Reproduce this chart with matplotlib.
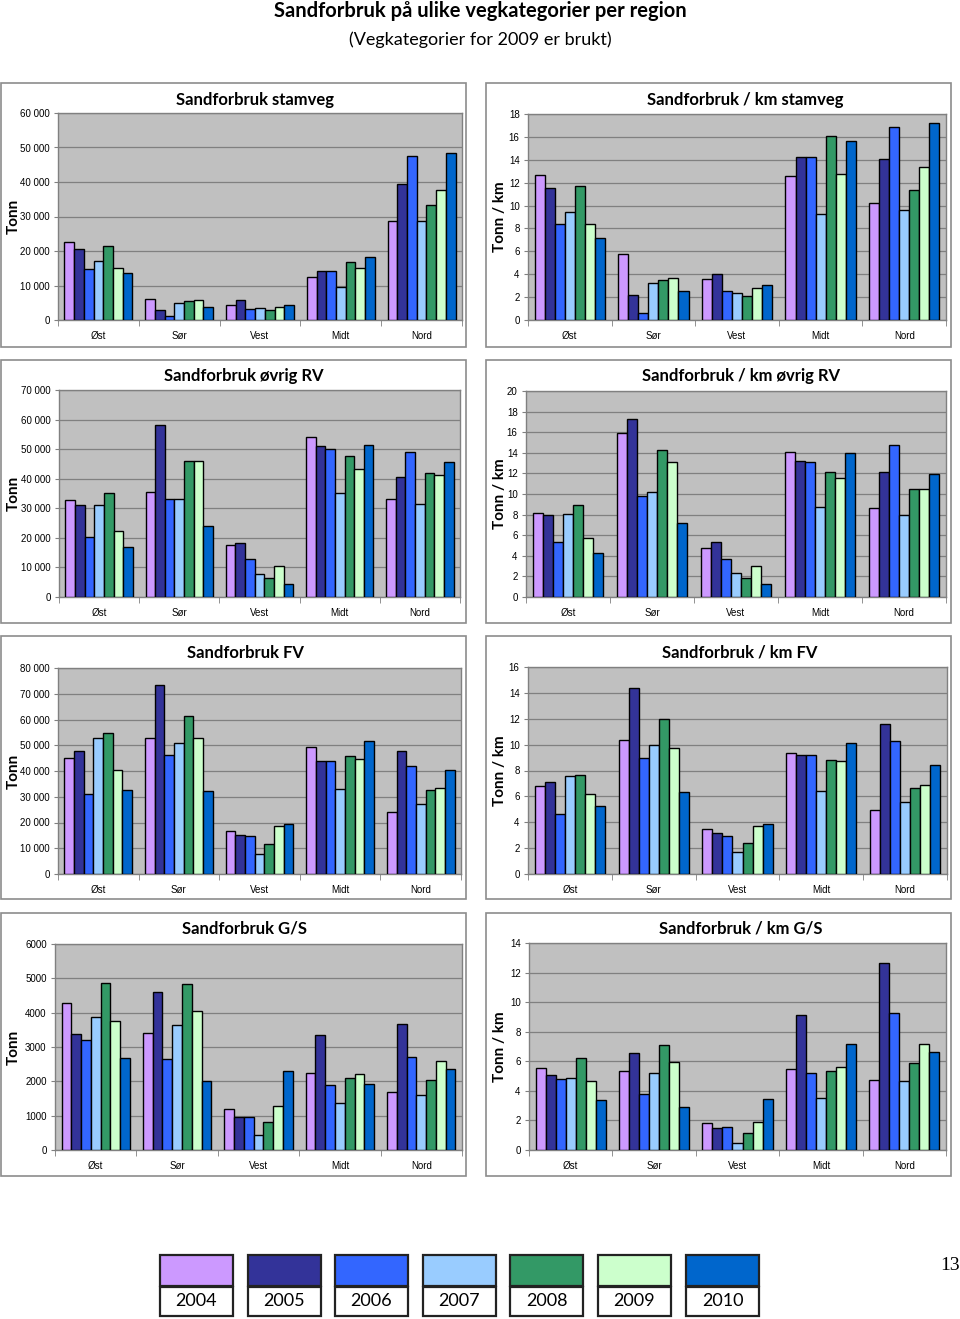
import numpy as np
import matplotlib
matplotlib.use("Agg")
from matplotlib import pyplot as plt
from matplotlib.patches import Rectangle
from matplotlib.ticker import FuncFormatter, FixedLocator

W, H = 960, 1319

regions = ["Øst", "Sør", "Vest", "Midt", "Nord"]
years = ["2004", "2005", "2006", "2007", "2008", "2009", "2010"]
colors = ["#CC99FF", "#333399", "#3366FF", "#99CCFF", "#339966", "#CCFFCC", "#0066CC"]

# values per region, 2004..2010
stamveg = [[22600, 20600, 14800, 17000, 21500, 15200, 13600],
           [6200, 3000, 1100, 4900, 5400, 5800, 3900],
           [4300, 5800, 3300, 3400, 3000, 3800, 4300],
           [12400, 14300, 14300, 9600, 16700, 15200, 18300],
           [28800, 39400, 47600, 28800, 33200, 37600, 48400]]
stamveg_km = [[12.7, 11.5, 8.4, 9.4, 11.75, 8.4, 7.15],
              [5.75, 2.2, 0.65, 3.27, 3.5, 3.7, 2.57],
              [3.6, 4.0, 2.57, 2.33, 2.1, 2.77, 3.03],
              [12.57, 14.2, 14.2, 9.3, 16.1, 12.8, 15.6],
              [10.23, 14.1, 16.9, 9.6, 11.4, 13.4, 17.2]]
ovrig_rv = [[32800, 31000, 20300, 31000, 35100, 22200, 16800],
            [35500, 58300, 33100, 33100, 45900, 45900, 24100],
            [17600, 18200, 12700, 7700, 6300, 10400, 4500],
            [54100, 51000, 50100, 35000, 47800, 43200, 51400],
            [33200, 40500, 49200, 31500, 41900, 41100, 45600]]
ovrig_rv_km = [[8.2, 7.95, 5.35, 8.1, 8.9, 5.75, 4.3],
               [15.9, 17.25, 9.85, 10.2, 14.25, 13.1, 7.2],
               [4.8, 5.35, 3.65, 2.35, 1.8, 3.0, 1.3],
               [14.1, 13.2, 13.1, 8.7, 12.1, 11.6, 14.0],
               [8.6, 12.15, 14.8, 7.95, 10.45, 10.45, 11.9]]
fv = [[45200, 47900, 30900, 52900, 54600, 40500, 32600],
      [52900, 73400, 46300, 50900, 61500, 52900, 32100],
      [16800, 15300, 14800, 7900, 11800, 18500, 19500],
      [49300, 44000, 44000, 33100, 45700, 44700, 51500],
      [24100, 47600, 41900, 27100, 32500, 33500, 40300]]
fv_km = [[6.8, 7.1, 4.6, 7.55, 7.65, 6.2, 5.27],
         [10.35, 14.35, 9.0, 9.95, 11.95, 9.75, 6.3],
         [3.46, 3.18, 2.95, 1.7, 2.4, 3.7, 3.88],
         [9.33, 9.22, 9.22, 6.38, 8.8, 8.7, 10.15],
         [4.93, 11.6, 10.25, 5.55, 6.68, 6.9, 8.46]]
gs = [[4270, 3370, 3210, 3880, 4870, 3770, 2670],
      [3420, 4600, 2640, 3650, 4830, 4040, 2000],
      [1180, 950, 970, 430, 820, 1290, 2310],
      [2240, 3340, 1890, 1380, 2090, 2200, 1920],
      [1690, 3680, 2710, 1600, 2040, 2580, 2350]]
gs_km = [[5.56, 5.1, 4.8, 4.9, 6.2, 4.64, 3.36],
         [5.36, 6.58, 3.8, 5.18, 7.1, 5.92, 2.9],
         [1.8, 1.46, 1.53, 0.45, 1.17, 1.91, 3.47],
         [5.45, 9.12, 5.18, 3.54, 5.36, 5.63, 7.2],
         [4.73, 12.63, 9.28, 4.64, 5.86, 7.2, 6.64]]

def space_thousands(v, pos):
    return "{:,}".format(int(v)).replace(",", " ")

def plain(v, pos):
    return "%d" % v

# (data, title, ylabel, ymax, step, formatter, frame box, plot box, title x, title y)
panels = [
    (stamveg, "Sandforbruk stamveg", "Tonn", 60000, 10000, space_thousands,
     (1, 83, 466, 347), (58, 113, 462, 320), 255, 100),
    (stamveg_km, "Sandforbruk / km stamveg", "Tonn / km", 18, 2, plain,
     (486, 83, 951, 347), (528, 114, 946, 320), 745, 100),
    (ovrig_rv, "Sandforbruk øvrig RV", "Tonn", 70000, 10000, space_thousands,
     (1, 360, 466, 623), (59, 390, 460, 597), 244, 376),
    (ovrig_rv_km, "Sandforbruk / km øvrig RV", "Tonn / km", 20, 2, plain,
     (486, 360, 951, 623), (526, 391, 946, 597), 741, 376),
    (fv, "Sandforbruk FV", "Tonn", 80000, 10000, space_thousands,
     (1, 636, 466, 899), (58, 668, 461, 874), 245, 653),
    (fv_km, "Sandforbruk / km FV", "Tonn / km", 16, 2, plain,
     (486, 636, 951, 899), (528, 667, 947, 874), 740, 653),
    (gs, "Sandforbruk G/S", "Tonn", 6000, 1000, plain,
     (1, 913, 466, 1176), (55, 944, 462, 1150), 244, 929),
    (gs_km, "Sandforbruk / km G/S", "Tonn / km", 14, 2, plain,
     (486, 913, 951, 1176), (529, 943, 946, 1150), 741, 929),
]

fig = plt.figure(figsize=(W / 100, H / 100), dpi=100)

def fx(x):
    return x / W

def fy(y):
    return 1 - y / H

fig.text(0.5, fy(11), "Sandforbruk på ulike vegkategorier per region", ha="center", va="center",
         fontsize=14.5, fontweight="bold", family="Lato")
fig.text(0.5, fy(40), "(Vegkategorier for 2009 er brukt)", ha="center", va="center",
         fontsize=13, family="Lato")

bw = 0.12
x = np.arange(len(regions))

for data, title, ylabel, ymax, step, fmt, frame, box, tx, ty in panels:
    fig.patches.append(Rectangle((fx(frame[0]), fy(frame[3])), fx(frame[2] - frame[0]),
                                 (frame[3] - frame[1]) / H, transform=fig.transFigure,
                                 facecolor="none", edgecolor="#8c8c8c", lw=1.2, zorder=0))
    ax = fig.add_axes([fx(box[0]), fy(box[3]), fx(box[2] - box[0]), (box[3] - box[1]) / H])
    ax.set_zorder(2)
    ax.set_facecolor("#C0C0C0")
    vals = np.array(data)
    for i, year in enumerate(years):
        ax.bar(x + (i - 3) * bw, vals[:, i], bw, color=colors[i], edgecolor="black",
               linewidth=1.0, zorder=3, label=year)
    ax.set_xlim(-0.5, len(regions) - 0.5)
    ax.set_ylim(0, ymax)
    ax.yaxis.set_major_locator(FixedLocator(np.arange(0, ymax + step / 2, step)))
    ax.yaxis.set_major_formatter(FuncFormatter(fmt))
    ax.grid(axis="y", color="#808080", lw=0.9, zorder=1)
    ax.set_xticks(x)
    ax.set_xticklabels(regions)
    ax.set_xticks(np.arange(-0.5, len(regions), 1.0), minor=True)
    ax.tick_params(axis="x", which="major", length=0, pad=8, labelsize=7)
    ax.tick_params(axis="x", which="minor", length=4, color="#808080")
    ax.tick_params(axis="y", length=3, labelsize=7, pad=3, color="#808080")
    for lab in ax.get_xticklabels() + ax.get_yticklabels():
        lab.set_family("Liberation Sans")
    for s in ax.spines.values():
        s.set_color("#808080")
        s.set_linewidth(1.0)
    ax.set_axisbelow(True)
    fig.text(fx(tx), fy(ty), title, ha="center", va="center", fontsize=12,
             fontweight="bold", family="Lato")
    ylx = 14 if frame[0] < 100 else 500
    fig.text(fx(ylx), fy((box[1] + box[3]) / 2), ylabel, ha="center", va="center",
             rotation=90, fontsize=11, fontweight="bold", family="Lato")

# legend made of colour boxes with label boxes underneath
leg_x = [160, 248, 335, 423, 510, 598, 686]
for lx, year, c in zip(leg_x, years, colors):
    fig.patches.append(Rectangle((fx(lx), fy(1286)), fx(73), 31 / H, transform=fig.transFigure,
                                 facecolor=c, edgecolor="#222222", lw=1.6))
    fig.patches.append(Rectangle((fx(lx), fy(1316)), fx(73), 29 / H, transform=fig.transFigure,
                                 facecolor="white", edgecolor="#222222", lw=1.6))
    fig.text(fx(lx + 36.5), fy(1301), year, ha="center", va="center", fontsize=13, family="Lato")

fig.text(fx(950), fy(1266), "13", ha="center", va="center", fontsize=14, family="Liberation Serif")

fig.savefig("out.png", dpi=100)
